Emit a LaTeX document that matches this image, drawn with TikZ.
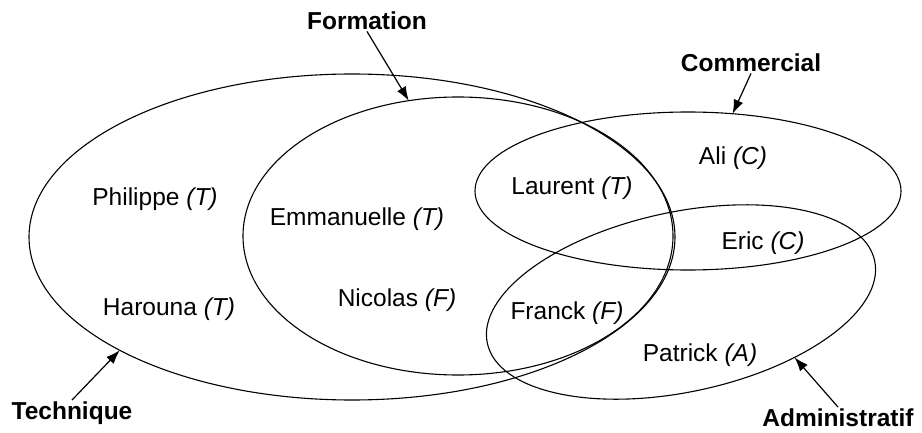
\documentclass[tikz,border=0pt]{standalone}
\usepackage{fontspec}
\setmainfont{Liberation Sans}
\usetikzlibrary{shapes.geometric,arrows.meta}

\tikzset{
  conjunto/.style={draw, ellipse, inner sep=0pt, outer sep=0pt, line width=1.1pt},
  nombre/.style={anchor=base, font=\fontsize{24.5}{29}\selectfont},
  titulo/.style={anchor=base, inner sep=1pt, font=\fontsize{24.5}{29}\selectfont\bfseries},
  flecha/.style={-{Latex[length=14pt,width=10pt]}, line width=1.2pt}
}

\begin{document}
\begin{tikzpicture}[x=1pt,y=1pt]
        \useasboundingbox (0,0) rectangle (922,432);

        % Paso 1: Dibuja los cuatro conjuntos
        \node[conjunto, minimum width=646, minimum height=326] (tecnica) at (352,195) {};
        \node[conjunto, minimum width=430, minimum height=278] (formacion) at (458,196) {};
        \node[conjunto, minimum width=426, minimum height=158] (comercial) at (688,241) {};
        \node[conjunto, minimum width=396, minimum height=180, rotate=12] (admin) at (681,130) {};

        % Paso 2: Coloca los nombres de los conjuntos
        \node[titulo] (ltecnica) at (72,13) {Technique};
        \node[titulo] (lformacion) at (367,402) {Formation};
        \node[titulo] (lcomercial) at (751,360) {Commercial};
        \node[titulo] (ladmin) at (838,6) {Administratif};

        % Paso 3: Flechas de los nombres hacia los conjuntos
        \draw[flecha] (ltecnica.north) -- (tecnica.206.3);
        \draw[flecha] (lformacion.south) -- (formacion.110.2);
        \draw[flecha] (lcomercial.south) -- (comercial.60.6);
        \draw[flecha] (ladmin.north) -- (admin.-38.4);

        % Paso 4: Coloca las personas
        \node[nombre] (philippe) at (155,226) {Philippe \textit{(T)}};
        \node[nombre] (harouna) at (169,117) {Harouna \textit{(T)}};
        \node[nombre] (emmanuelle) at (357,207) {Emmanuelle \textit{(T)}};
        \node[nombre] (nicolas) at (397,125.5) {Nicolas \textit{(F)}};
        \node[nombre] (laurent) at (572,237) {Laurent \textit{(T)}};
        \node[nombre] (ali) at (733,267) {Ali \textit{(C)}};
        \node[nombre] (eric) at (763,183) {Eric \textit{(C)}};
        \node[nombre] (franck) at (567,113) {Franck \textit{(F)}};
        \node[nombre] (patrick) at (700,71) {Patrick \textit{(A)}};
\end{tikzpicture}
\end{document}
